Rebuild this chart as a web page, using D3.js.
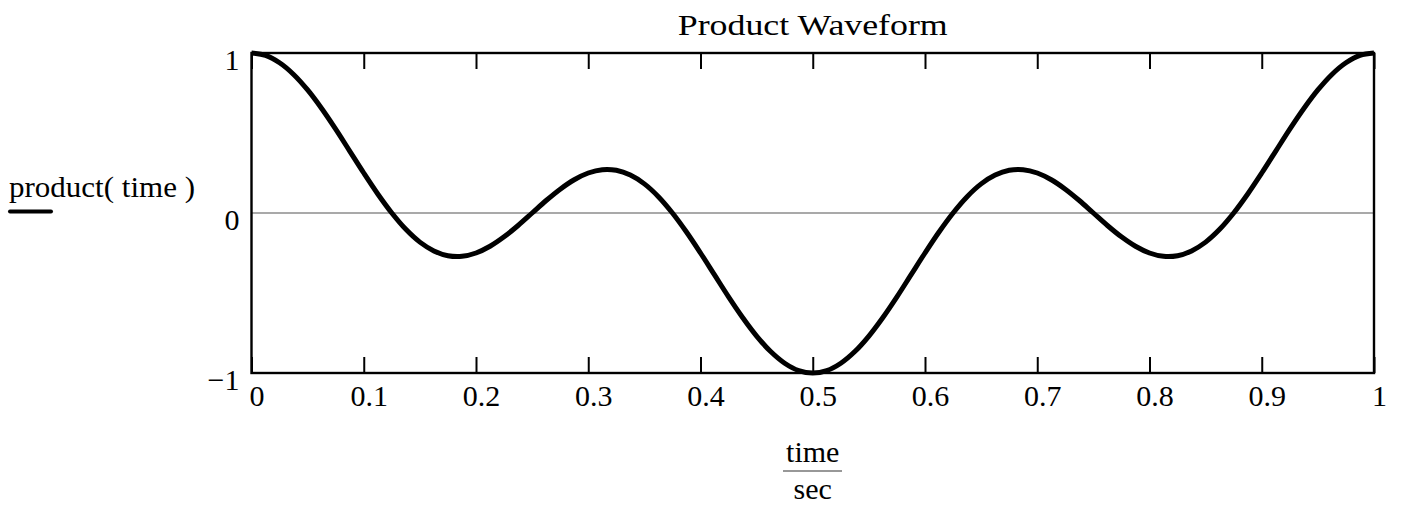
<!DOCTYPE html>
<html>
<head>
<meta charset="utf-8">
<script src="https://cdn.jsdelivr.net/npm/d3@7"></script>
<style>
  html, body { margin: 0; padding: 0; background: #fff; }
  svg { display: block; }
  svg text { font-family: "Liberation Serif", "Times New Roman", Times, serif !important; fill: #000; }
</style>
</head>
<body>
<svg id="chart" width="1403" height="508"></svg>
<script>
// ---- data ----
const timeValues = [
  0, 0.0125, 0.025, 0.0375, 0.05, 0.0625, 0.075, 0.0875, 0.1, 0.1125,
  0.125, 0.1375, 0.15, 0.1625, 0.175, 0.1875, 0.2, 0.2125, 0.225, 0.2375,
  0.25, 0.2625, 0.275, 0.2875, 0.3, 0.3125, 0.325, 0.3375, 0.35, 0.3625,
  0.375, 0.3875, 0.4, 0.4125, 0.425, 0.4375, 0.45, 0.4625, 0.475, 0.4875,
  0.5, 0.5125, 0.525, 0.5375, 0.55, 0.5625, 0.575, 0.5875, 0.6, 0.6125,
  0.625, 0.6375, 0.65, 0.6625, 0.675, 0.6875, 0.7, 0.7125, 0.725, 0.7375,
  0.75, 0.7625, 0.775, 0.7875, 0.8, 0.8125, 0.825, 0.8375, 0.85, 0.8625,
  0.875, 0.8875, 0.9, 0.9125, 0.925, 0.9375, 0.95, 0.9625, 0.975, 0.9875, 1];
const productValues = [
  1, 0.985, 0.939, 0.866, 0.769, 0.653, 0.524, 0.387, 0.25, 0.119,
  0, -0.102, -0.182, -0.237, -0.267, -0.271, -0.25, -0.208, -0.149, -0.078,
  0, 0.078, 0.149, 0.208, 0.25, 0.271, 0.267, 0.237, 0.182, 0.102,
  0, -0.119, -0.25, -0.387, -0.524, -0.653, -0.769, -0.866, -0.939, -0.985,
  -1, -0.985, -0.939, -0.866, -0.769, -0.653, -0.524, -0.387, -0.25, -0.119,
  0, 0.102, 0.182, 0.237, 0.267, 0.271, 0.25, 0.208, 0.149, 0.078,
  0, -0.078, -0.149, -0.208, -0.25, -0.271, -0.267, -0.237, -0.182, -0.102,
  0, 0.119, 0.25, 0.387, 0.524, 0.653, 0.769, 0.866, 0.939, 0.985, 1];
const xTickValues = [0, 0.1, 0.2, 0.3, 0.4, 0.5, 0.6, 0.7, 0.8, 0.9, 1];
const xTickLabels = ["0", "0.1", "0.2", "0.3", "0.4", "0.5", "0.6", "0.7", "0.8", "0.9", "1"];
const yTickValues = [-1, 0, 1];
const yTickLabels = ["\u22121", "0", "1"];
const titleText = "Product Waveform";
const yLabelText = "product( time )";
const xLabelTop = "time";
const xLabelBottom = "sec";

// ---- layout ----
const svg = d3.select("#chart");
const pLeft = 251.5, pRight = 1374, pTop = 53, pBottom = 373;
const x = d3.scaleLinear().domain([0, 1]).range([pLeft, pRight]);
const y = d3.scaleLinear().domain([-1, 1]).range([pBottom, pTop]);
const FS = 30;
const FONT = "Liberation Serif, Times New Roman, serif";

// zero line
svg.append("line")
  .attr("x1", x(0)).attr("x2", x(1))
  .attr("y1", y(0)).attr("y2", y(0))
  .attr("stroke", "#555").attr("stroke-width", 1.2);

// bottom axis (ticks inward)
const gb = svg.append("g").attr("transform", `translate(0,${pBottom})`)
  .call(d3.axisBottom(x).tickValues(xTickValues).tickSize(-16)
    .tickFormat((d, i) => xTickLabels[i]));
gb.attr("font-family", FONT).attr("font-size", FS);
gb.select(".domain").remove();
gb.selectAll(".tick line").attr("stroke", "#000").attr("stroke-width", 2);
gb.selectAll(".tick text")
  .attr("y", 33).attr("dy", 0).attr("dx", 5).attr("fill", "#000");

// top axis (ticks inward, no labels)
const gt = svg.append("g").attr("transform", `translate(0,${pTop})`)
  .call(d3.axisTop(x).tickValues(xTickValues).tickSize(-16).tickFormat(""));
gt.select(".domain").remove();
gt.selectAll(".tick line").attr("stroke", "#000").attr("stroke-width", 2);

// left axis labels
const gl = svg.append("g").attr("transform", `translate(${pLeft},0)`)
  .call(d3.axisLeft(y).tickValues(yTickValues).tickSize(0)
    .tickFormat((d, i) => yTickLabels[i]));
gl.attr("font-family", FONT).attr("font-size", FS);
gl.select(".domain").remove();
gl.selectAll(".tick text")
  .attr("x", -12).attr("dy", 0).attr("y", 16).attr("fill", "#000");

// frame
svg.append("rect")
  .attr("x", pLeft).attr("y", pTop)
  .attr("width", pRight - pLeft).attr("height", pBottom - pTop)
  .attr("fill", "none").attr("stroke", "#000").attr("stroke-width", 2.4);

// curve
const pts = timeValues.map((t, i) => [t, productValues[i]]);
svg.append("path")
  .datum(pts)
  .attr("fill", "none")
  .attr("stroke", "#000")
  .attr("stroke-width", 5)
  .attr("stroke-linejoin", "round")
  .attr("d", d3.line().x(d => x(d[0])).y(d => y(d[1])).curve(d3.curveCatmullRom.alpha(0.5)));

// title
svg.append("text")
  .attr("x", (pLeft + pRight) / 2).attr("y", 35)
  .attr("text-anchor", "middle")
  .attr("textLength", 270).attr("lengthAdjust", "spacingAndGlyphs")
  .attr("font-size", FS)
  .text(titleText);

// y label
svg.append("text")
  .attr("x", 9).attr("y", 197)
  .attr("textLength", 186).attr("lengthAdjust", "spacingAndGlyphs")
  .attr("font-size", FS)
  .text(yLabelText);
svg.append("line")
  .attr("x1", 10).attr("x2", 51).attr("y1", 211.5).attr("y2", 211.5)
  .attr("stroke", "#000").attr("stroke-width", 4).attr("stroke-linecap", "round");

// x label fraction
const cx = (pLeft + pRight) / 2;
svg.append("text")
  .attr("x", cx).attr("y", 462).attr("text-anchor", "middle")
  .attr("font-size", FS).text(xLabelTop);
svg.append("line")
  .attr("x1", 783).attr("x2", 842).attr("y1", 471).attr("y2", 471)
  .attr("stroke", "#333").attr("stroke-width", 1.2);
svg.append("text")
  .attr("x", cx).attr("y", 499).attr("text-anchor", "middle")
  .attr("font-size", FS).text(xLabelBottom);
</script>
</body>
</html>
